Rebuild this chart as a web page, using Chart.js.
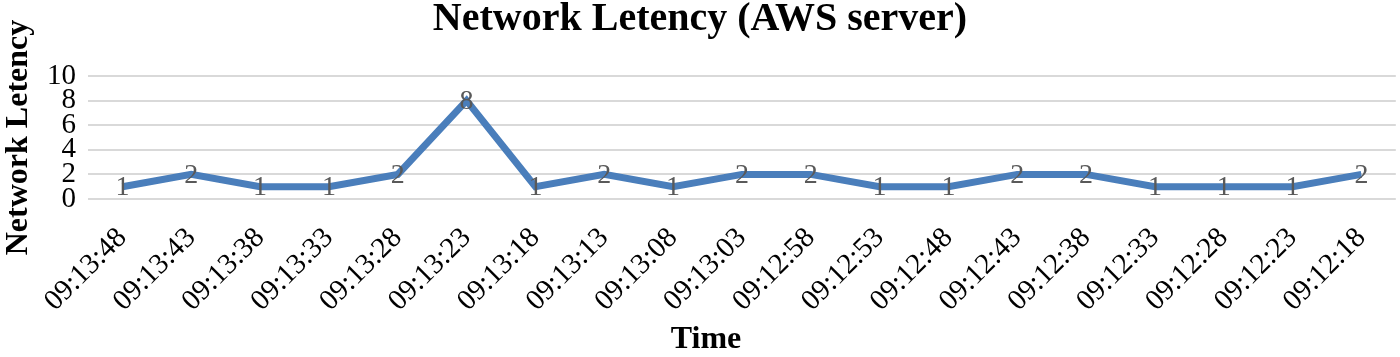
<!DOCTYPE html>
<html>
<head>
<meta charset="utf-8">
<script src="https://cdn.jsdelivr.net/npm/chart.js@4/dist/chart.umd.min.js"></script>
<style>
  html, body { margin: 0; padding: 0; background: #fff; }
  #wrap { width: 1400px; height: 357px; position: relative; }
</style>
</head>
<body>
<div id="wrap"><canvas id="chart_networkLatency"></canvas></div>
<script>
var timeLabels = [
    '09:13:48', '09:13:43', '09:13:38', '09:13:33', '09:13:28', '09:13:23', '09:13:18',
    '09:13:13', '09:13:08', '09:13:03', '09:12:58', '09:12:53', '09:12:48', '09:12:43',
    '09:12:38', '09:12:33', '09:12:28', '09:12:23', '09:12:18'
];
var latencyValues = [1, 2, 1, 1, 2, 8, 1, 2, 1, 2, 2, 1, 1, 2, 2, 1, 1, 1, 2];
var yMin = 0, yMax = 10, yStep = 2;
var xAxisTitle = 'Time';

// draws the value of each point centred on it (no datalabels plugin offline)
var pointValueLabels = {
    id: 'pointValueLabels',
    afterDatasetsDraw: (chart) => {
        const ctx = chart.ctx;
        const meta = chart.getDatasetMeta(0);
        ctx.save();
        ctx.font = '28px "Liberation Serif", serif';
        ctx.fillStyle = '#595959';
        ctx.textAlign = 'center';
        ctx.textBaseline = 'middle';
        meta.data.forEach((pt, i) => {
            ctx.fillText(String(latencyValues[i]), pt.x, pt.y + 1);
        });
        ctx.restore();
    }
};

// x axis title sits a bit left of centre in the original
var xTitle = {
    id: 'xTitle',
    afterDraw: (chart) => {
        const ctx = chart.ctx;
        ctx.save();
        ctx.font = 'bold 32px "Liberation Serif", serif';
        ctx.fillStyle = '#000';
        ctx.textAlign = 'center';
        ctx.textBaseline = 'bottom';
        ctx.fillText(xAxisTitle, chart.chartArea.left + 618, chart.height - 1);
        ctx.restore();
    }
};

var chart_networkLatency = new Chart(document.getElementById('chart_networkLatency'), {
    type: 'line',
    data: {
        labels: timeLabels,
        datasets: [
            {
                label: 'Network Letency',
                data: latencyValues,
                borderColor: '#4a7ebb',
                borderWidth: 7,
                pointRadius: 0,
                tension: 0
            }
        ]
    },
    options: {
        animation: false,
        responsive: true,
        maintainAspectRatio: false,
        layout: { padding: 0 },
        plugins: {
            legend: { display: false },
            tooltip: { enabled: false },
            title: {
                display: true,
                text: 'Network Letency (AWS server)',
                color: '#000',
                font: { family: '"Liberation Serif", serif', size: 40, weight: 'bold', lineHeight: 1.0 },
                padding: { top: 0, bottom: 36 }
            }
        },
        scales: {
            x: {
                offset: true,
                grid: { display: false },
                border: { display: false },
                ticks: {
                    autoSkip: false,
                    minRotation: 45,
                    maxRotation: 45,
                    color: '#000',
                    padding: 14,
                    font: { family: '"Liberation Serif", serif', size: 29 }
                },
                afterFit: (scale) => { scale.height = 158; }
            },
            y: {
                min: yMin,
                max: yMax,
                grid: { color: '#d9d9d9', lineWidth: 2, drawTicks: false },
                border: { display: false },
                ticks: {
                    stepSize: yStep,
                    autoSkip: false,
                    color: '#000',
                    padding: 12,
                    font: { family: '"Liberation Serif", serif', size: 29, lineHeight: 1 }
                },
                title: {
                    display: true,
                    text: 'Network Letency',
                    color: '#000',
                    padding: 0,
                    font: { family: '"Liberation Serif", serif', size: 32, weight: 'bold' }
                },
                afterFit: (scale) => { scale.width = 88; }
            }
        }
    },
    plugins: [pointValueLabels, xTitle, {
        id: 'customPlugin',
        beforeDraw: (chart) => {
            const ctx = chart.canvas.getContext('2d');
            ctx.save();
            ctx.globalCompositeOperation = 'destination-over';
            ctx.fillStyle = 'white';
            ctx.fillRect(0, 0, chart.canvas.width, chart.canvas.height);
            ctx.restore();
        }
    }]
});
</script>
</body>
</html>
